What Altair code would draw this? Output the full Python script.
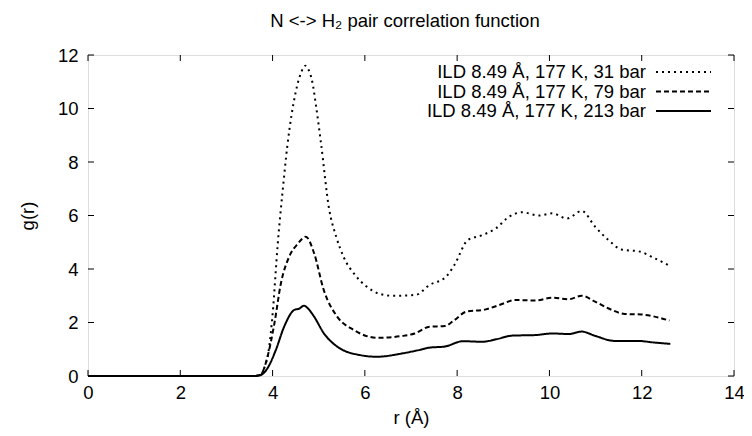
import altair as alt
import pandas as pd

# ---- data ----
series_names = ["ILD 8.49 Å, 177 K, 31 bar",
                "ILD 8.49 Å, 177 K, 79 bar",
                "ILD 8.49 Å, 177 K, 213 bar"]

r_31 = [0, 3.6, 3.74, 3.82, 3.92, 4.0, 4.11, 4.22, 4.32, 4.5, 4.62, 4.71, 4.78, 4.86, 4.95, 5.05,
        5.22, 5.38, 5.54, 5.8, 6.04, 6.3, 6.6, 7.1, 7.4, 7.76, 7.94, 8.23, 8.55, 8.84, 9.13, 9.41,
        9.77, 10.06, 10.38, 10.70, 10.99, 11.28, 11.56, 11.96, 12.28, 12.62]
g_31 = [0, 0, 0.05, 0.3, 1.0, 2.3, 4.9, 6.95, 8.6, 10.6, 11.35, 11.6, 11.45, 11.0, 10.0, 8.7,
        6.3, 5.2, 4.45, 3.75, 3.34, 3.08, 3.0, 3.03, 3.4, 3.71, 4.15, 5.08, 5.27, 5.52, 5.96, 6.12,
        6.0, 6.08, 5.89, 6.17, 5.58, 5.08, 4.73, 4.65, 4.40, 4.11]

r_79 = [0, 3.6, 3.74, 3.89, 4.04, 4.18, 4.36, 4.55, 4.72, 4.90, 5.11, 5.40, 5.76, 6.26, 6.83,
        7.08, 7.40, 7.73, 7.94, 8.19, 8.62, 8.91, 9.27, 9.70, 10.06, 10.42, 10.70, 10.99, 11.35,
        11.63, 11.99, 12.28, 12.6]
g_79 = [0, 0, 0.05, 0.72, 1.97, 3.46, 4.46, 4.95, 5.21, 4.59, 3.21, 2.22, 1.72, 1.43, 1.5,
        1.59, 1.84, 1.87, 2.09, 2.40, 2.49, 2.65, 2.84, 2.82, 2.93, 2.87, 3.0, 2.78, 2.47,
        2.32, 2.30, 2.22, 2.07]

r_213 = [0, 3.6, 3.72, 3.89, 4.07, 4.25, 4.47, 4.58, 4.68, 4.78, 4.90, 5.11, 5.40, 5.90, 6.26,
         6.83, 7.12, 7.40, 7.73, 8.12, 8.55, 8.84, 9.20, 9.70, 10.06, 10.42, 10.70, 10.99, 11.42,
         11.92, 12.28, 12.62]
g_213 = [0, 0, 0.02, 0.29, 0.97, 1.84, 2.47, 2.52, 2.63, 2.5, 2.22, 1.6, 1.1, 0.78, 0.72,
         0.85, 0.95, 1.06, 1.10, 1.30, 1.28, 1.37, 1.51, 1.53, 1.59, 1.57, 1.66, 1.50, 1.31,
         1.31, 1.25, 1.20]

x_ticks = [0, 2, 4, 6, 8, 10, 12, 14]
y_ticks = [0, 2, 4, 6, 8, 10, 12]

title_text = "N <-> H₂ pair correlation function"

dash_styles = [[2, 4], [5, 3], [1, 0]]

# ---- build table ----
frames = []
for name, rr, gg in zip(series_names, [r_31, r_79, r_213], [g_31, g_79, g_213]):
    frames.append(pd.DataFrame({"r": rr, "g": gg, "series": name}))
df = pd.concat(frames, ignore_index=True)

W, H = 646, 321
PAD_L, PAD_T, PAD_R, PAD_B = 80, 47, 10, 52
FONT = "Liberation Sans"
FS = 18.5

xs = alt.Scale(domain=[0, 14], nice=False, zero=False)
ys = alt.Scale(domain=[0, 12], nice=False, zero=False)

xaxis = alt.Axis(
    values=x_ticks, title="r (Å)", ticks=False, domain=False, grid=False, labelFlush=False,
    labelFont=FONT, labelFontSize=FS, labelColor="black", labelPadding=7,
    titleFont=FONT, titleFontSize=FS, titleFontWeight="normal", titleColor="black",
    titlePadding=7)
yaxis = alt.Axis(
    values=y_ticks, title="g(r)", ticks=False, domain=False, grid=False, labelFlush=False,
    labelFont=FONT, labelFontSize=FS, labelColor="black", labelPadding=10,
    titleFont=FONT, titleFontSize=FS, titleFontWeight="normal", titleColor="black",
    titlePadding=20)

lines = alt.Chart(df).mark_line(color="black", strokeWidth=2, interpolate="monotone").encode(
    x=alt.X("r:Q", scale=xs, axis=xaxis),
    y=alt.Y("g:Q", scale=ys, axis=yaxis),
    strokeDash=alt.StrokeDash("series:N", scale=alt.Scale(domain=series_names, range=dash_styles),
                              legend=None),
    detail="series:N",
)

xt = pd.DataFrame({"t": x_ticks})
yt = pd.DataFrame({"t": y_ticks})
TL = 6
tick_bottom = alt.Chart(xt).mark_rule(color="black", strokeWidth=1).encode(
    x=alt.X("t:Q", scale=xs, axis=xaxis), y=alt.value(H), y2=alt.value(H - TL))
tick_top = alt.Chart(xt).mark_rule(color="black", strokeWidth=1).encode(
    x=alt.X("t:Q", scale=xs, axis=xaxis), y=alt.value(0), y2=alt.value(TL))
tick_left = alt.Chart(yt).mark_rule(color="black", strokeWidth=1).encode(
    y=alt.Y("t:Q", scale=ys, axis=yaxis), x=alt.value(0), x2=alt.value(TL))
tick_right = alt.Chart(yt).mark_rule(color="black", strokeWidth=1).encode(
    y=alt.Y("t:Q", scale=ys, axis=yaxis), x=alt.value(W), x2=alt.value(W - TL))

one = pd.DataFrame({"a": [0]})

# title drawn as a text mark above the plot
title_layer = alt.Chart(one).mark_text(
    align="center", baseline="middle", font=FONT, fontSize=FS, color="black").encode(
    x=alt.value(W / 2 - 6), y=alt.value(-34), text=alt.value(title_text))

# ---- manual gnuplot-style legend (label left, sample right) ----
legend_layers = []
row_y = [17, 36.5, 56]
TXT_X = W - 88
for name, dsh, yy in zip(series_names, dash_styles, row_y):
    legend_layers.append(alt.Chart(one).mark_text(
        align="right", baseline="middle", font=FONT, fontSize=FS, color="black").encode(
        x=alt.value(TXT_X), y=alt.value(yy), text=alt.value(name)))
    legend_layers.append(alt.Chart(one).mark_rule(
        color="black", strokeWidth=2, strokeDash=dsh).encode(
        x=alt.value(TXT_X + 10), x2=alt.value(TXT_X + 65), y=alt.value(yy)))

chart = alt.layer(lines, tick_bottom, tick_top, tick_left, tick_right, title_layer,
                  *legend_layers).properties(
    width=W, height=H,
    padding={"left": PAD_L, "top": PAD_T, "right": PAD_R, "bottom": PAD_B},
    autosize=alt.AutoSizeParams(type="none"),
).configure_view(stroke="black", strokeWidth=1.5).configure(background="white")

chart.save("out.html", embed_options={"renderer": "svg", "actions": False})
